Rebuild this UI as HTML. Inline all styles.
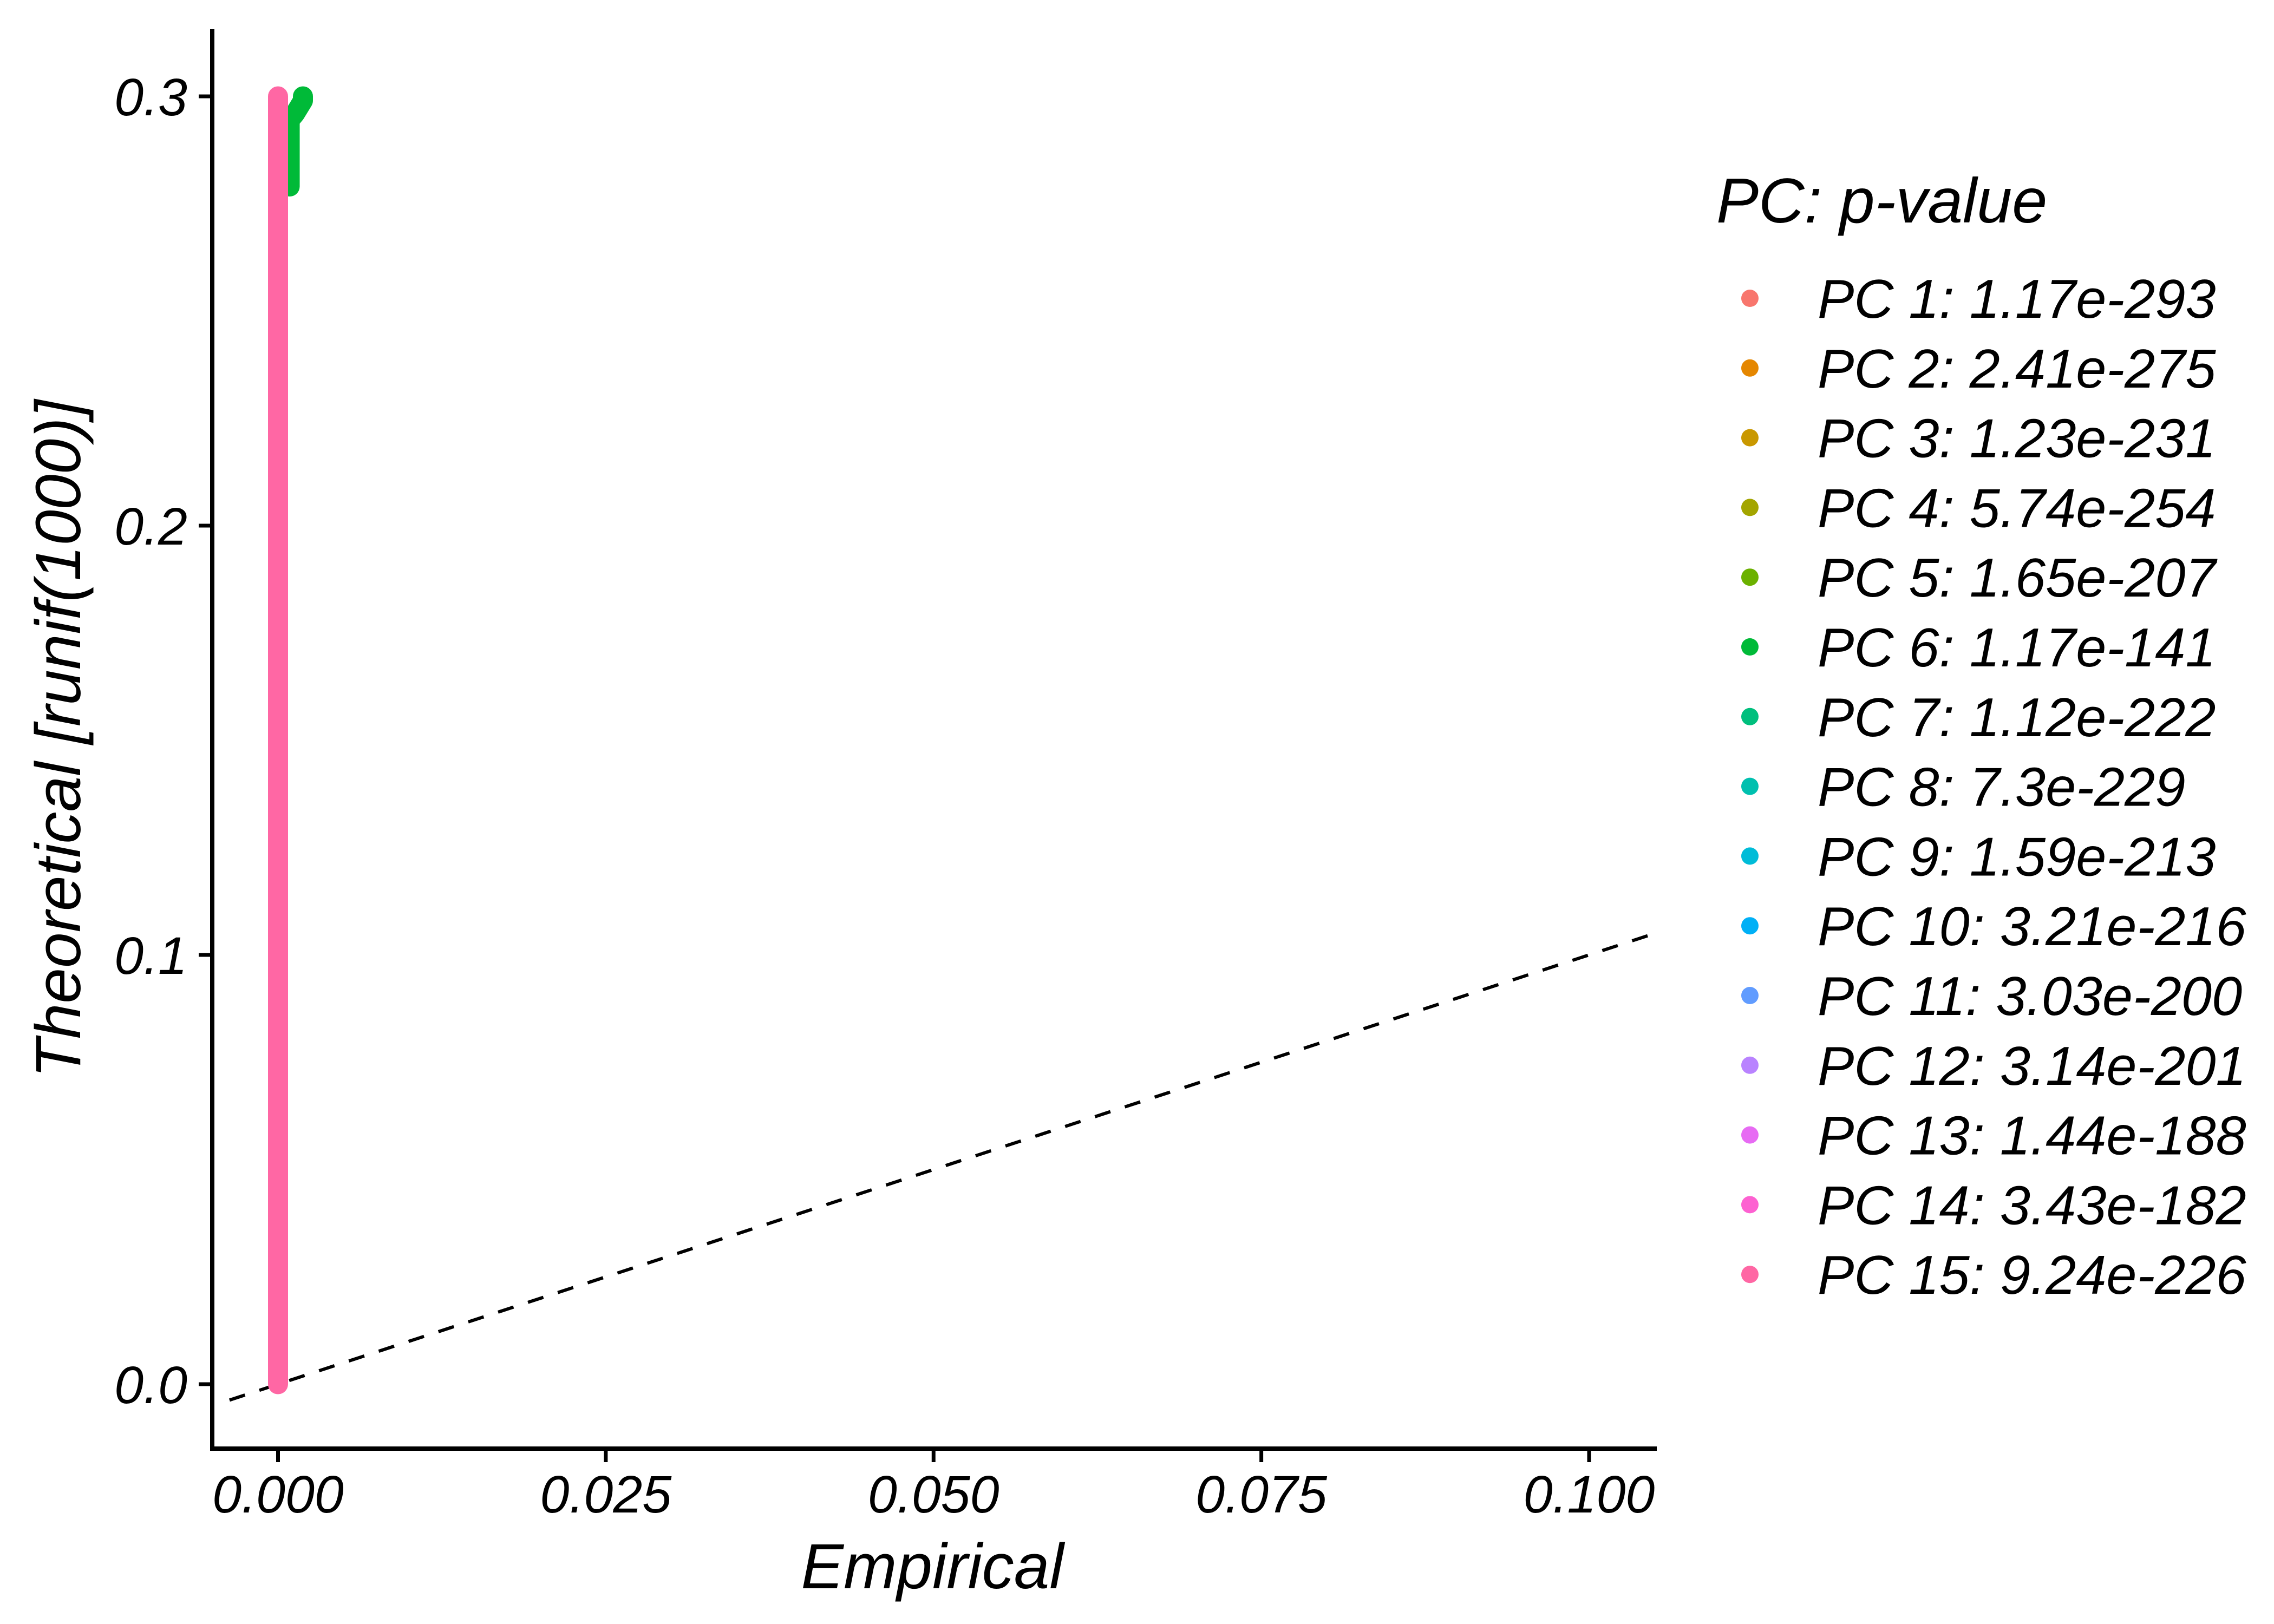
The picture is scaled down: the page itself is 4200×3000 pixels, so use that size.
<!DOCTYPE html>
<html><head><meta charset="utf-8"><style>
html,body{margin:0;padding:0;background:#fff;}
svg{display:block;font-family:"Liberation Sans",Arial,sans-serif;font-style:italic;}
</style></head><body>
<svg id="chart" width="4200" height="3000" viewBox="0 0 4200 3000" xmlns="http://www.w3.org/2000/svg">
<rect width="4200" height="3000" fill="#fff"/>
<g id="plot"></g>
<g id="axes"></g>
<g id="legend"></g>
</svg>
<script>
const xTicks = [0, 0.025, 0.05, 0.075, 0.1];
const xTickLabels = ["0.000", "0.025", "0.050", "0.075", "0.100"];
const yTicks = [0, 0.1, 0.2, 0.3];
const yTickLabels = ["0.0", "0.1", "0.2", "0.3"];
const pcNames = ["PC 1","PC 2","PC 3","PC 4","PC 5","PC 6","PC 7","PC 8","PC 9","PC 10","PC 11","PC 12","PC 13","PC 14","PC 15"];
const pcPvalues = ["1.17e-293","2.41e-275","1.23e-231","5.74e-254","1.65e-207","1.17e-141","1.12e-222","7.3e-229","1.59e-213","3.21e-216","3.03e-200","3.14e-201","1.44e-188","3.43e-182","9.24e-226"];
const pcColors = ["#F8766D","#E58700","#C99800","#A3A500","#6BB100","#00BA38","#00BF7D","#00C0AF","#00BCD8","#00B0F6","#619CFF","#B983FF","#E76BF3","#FD61D1","#FF67A4"];
const pc6Empirical = [0.00089, 0.00089, 0.0013, 0.0019, 0.0019];
const pc6Theoretical = [0.279, 0.2945, 0.296, 0.299, 0.3];
const pc15Empirical = [0, 0, 0, 0, 0, 0, 0];
const pc15Theoretical = [0, 0.05, 0.1, 0.15, 0.2, 0.25, 0.3];
const refLineX = [-0.0037, 0.10516];

const NS = "http://www.w3.org/2000/svg";
const X0 = 513.5, XS = 24215, Y0 = 2557, YS = 7930;
const PL = 392, PR = 3060, PT = 54, PB = 2676;
function sx(v){ return X0 + v * XS; }
function sy(v){ return Y0 - v * YS; }
function mk(tag, attrs, parent, text){
  const e = document.createElementNS(NS, tag);
  for (const k in attrs) e.setAttribute(k, attrs[k]);
  if (text !== undefined) e.textContent = text;
  parent.appendChild(e);
  return e;
}
const plot = document.getElementById("plot");
const axes = document.getElementById("axes");
const legend = document.getElementById("legend");

const rl = mk("line", {x1: sx(refLineX[0]), y1: sy(refLineX[0]), x2: sx(refLineX[1]), y2: sy(refLineX[1]), stroke: "#000", "stroke-width": 6, "stroke-dasharray": "30 28"}, plot);



function series(xs, ys, color, name){
  const pts = xs.map((x, i) => sx(x) + "," + sy(ys[i])).join(" ");
  const p = mk("polyline", {points: pts, fill: "none", stroke: color, "stroke-width": 37, "stroke-linecap": "round", "stroke-linejoin": "round"}, plot);
  
  
}
series(pc6Empirical, pc6Theoretical, pcColors[5], "series-pc6");
series(pc15Empirical, pc15Theoretical, pcColors[14], "series-pc15");

const ya = mk("line", {x1: PL, y1: PT, x2: PL, y2: PB + 4, stroke: "#000", "stroke-width": 8}, axes);


const xa = mk("line", {x1: PL - 4, y1: PB, x2: PR, y2: PB, stroke: "#000", "stroke-width": 8}, axes);



xTicks.forEach((v, i) => {
  const t = mk("line", {x1: sx(v), y1: PB, x2: sx(v), y2: PB + 25, stroke: "#000", "stroke-width": 7}, axes);
  
  
  const l = mk("text", {x: sx(v), y: 2794, "text-anchor": "middle", "font-size": 97, fill: "#000"}, axes, xTickLabels[i]);
  
  
});
yTicks.forEach((v, i) => {
  const t = mk("line", {x1: PL - 25, y1: sy(v), x2: PL, y2: sy(v), stroke: "#000", "stroke-width": 7}, axes);
  
  
  const l = mk("text", {x: 346, y: sy(v) + 35, "text-anchor": "end", "font-size": 97, fill: "#000"}, axes, yTickLabels[i]);
  
  
});
const xt = mk("text", {x: 1722, y: 2934, "text-anchor": "middle", "font-size": 118, fill: "#000"}, axes, "Empirical");


const yt = mk("text", {x: 0, y: 0, "text-anchor": "middle", "font-size": 118, fill: "#000", transform: "translate(148,1365) rotate(-90)"}, axes, "Theoretical [runif(1000)]");



const lt = mk("text", {x: 3170, y: 411, "font-size": 117, fill: "#000"}, legend, "PC: p-value");


pcNames.forEach((n, i) => {
  const y = 551 + i * 128.8;
  const c = mk("circle", {cx: 3232, cy: y, r: 16, fill: pcColors[i]}, legend);
  
  
  const t = mk("text", {x: 3357, y: y + 36, "font-size": 101, fill: "#000"}, legend, n + ": " + pcPvalues[i]);
  
  
});
</script>
</body></html>
